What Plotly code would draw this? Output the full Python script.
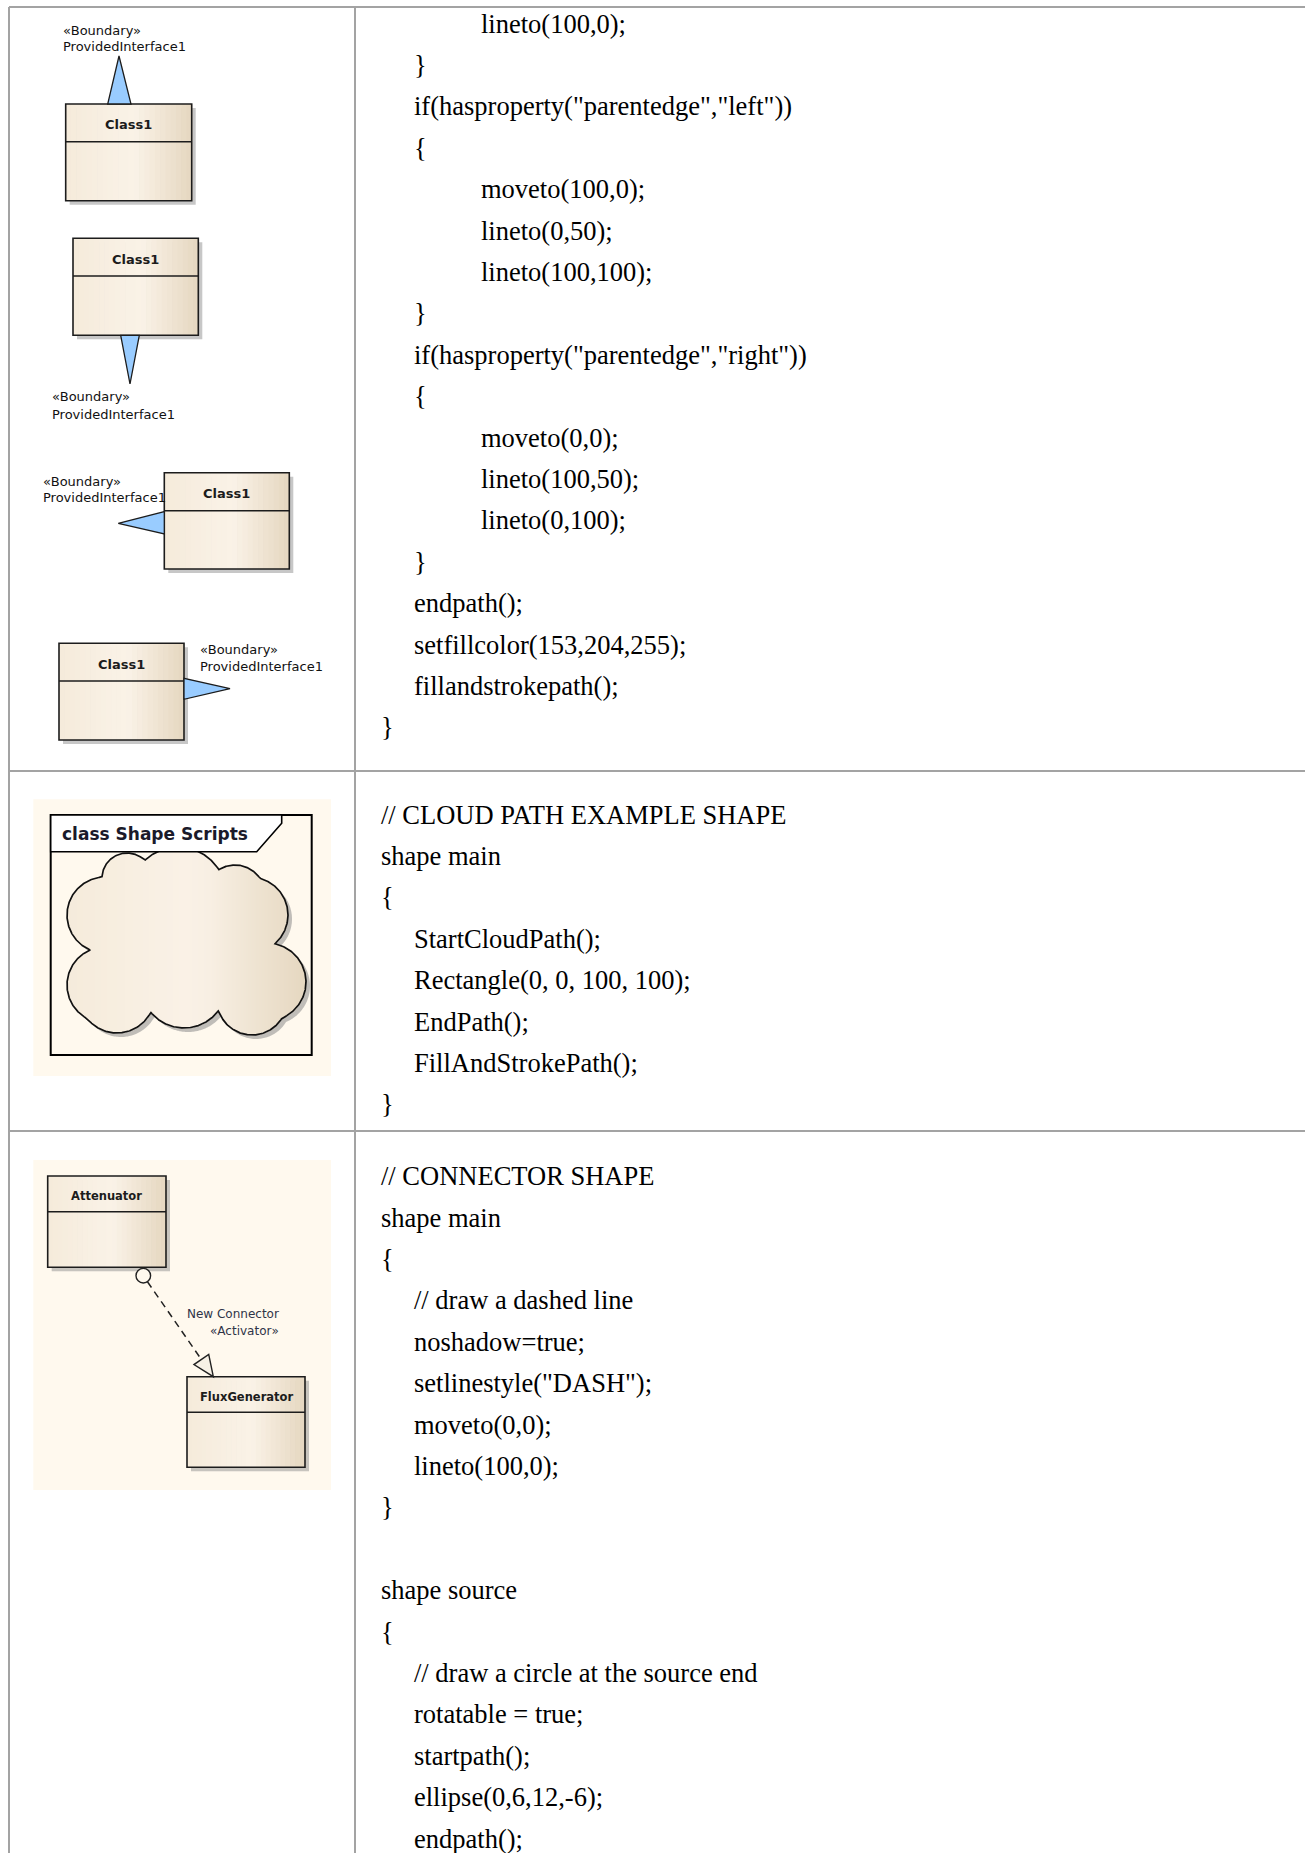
import numpy as np
import plotly.graph_objects as go

# ---------------- content ----------------
row1_code = ['lineto(100,0);', '}', 'if(hasproperty("parentedge","left"))', '{',
             'moveto(100,0);', 'lineto(0,50);', 'lineto(100,100);', '}',
             'if(hasproperty("parentedge","right"))', '{', 'moveto(0,0);',
             'lineto(100,50);', 'lineto(0,100);', '}', 'endpath();',
             'setfillcolor(153,204,255);', 'fillandstrokepath();', '}']
row1_indent = [2, 1, 1, 1, 2, 2, 2, 1, 1, 1, 2, 2, 2, 1, 1, 1, 1, 0]

row2_code = ['// CLOUD PATH EXAMPLE SHAPE', 'shape main', '{', 'StartCloudPath();',
             'Rectangle(0, 0, 100, 100);', 'EndPath();', 'FillAndStrokePath();', '}']
row2_indent = [0, 0, 0, 1, 1, 1, 1, 0]

row3_code = ['// CONNECTOR SHAPE', 'shape main', '{', '// draw a dashed line',
             'noshadow=true;', 'setlinestyle("DASH");', 'moveto(0,0);', 'lineto(100,0);',
             '}', '', 'shape source', '{', '// draw a circle at the source end',
             'rotatable = true;', 'startpath();', 'ellipse(0,6,12,-6);', 'endpath();']
row3_indent = [0, 0, 0, 1, 1, 1, 1, 1, 0, 0, 0, 0, 1, 1, 1, 1, 1]

class_titles = ['Class1', 'Class1', 'Class1', 'Class1']
interface_stereotype = '«Boundary»'
interface_name = 'ProvidedInterface1'
frame_title = 'class Shape Scripts'
connector_classes = ['Attenuator', 'FluxGenerator']
connector_labels = ['New Connector', '«Activator»']

# ---------------- geometry (pixels) ----------------
W, H = 1305, 1853
table_left, table_top, col_split = 9, 7, 355
row_lines = [771, 1131]
code_first_y = [23.6, 814.5, 1176.2]
line_step = 41.4
indent_x = [378.5, 411.5, 478.5]

# class boxes of row 1: x0, y0, x1, y1, divider
iface_boxes = [(65.7, 104, 191.7, 200.7, 141.7),
               (73, 238.3, 198.3, 335.3, 276),
               (164.3, 472.7, 289.3, 569, 510.7),
               (59, 643.3, 184, 740, 681)]
iface_tris = [[(107.7, 104), (131, 104), (119, 56)],
              [(120.7, 335.3), (139.3, 335.3), (130, 384)],
              [(164.3, 511.7), (164.3, 534), (118.3, 523.3)],
              [(184, 678.3), (184, 699.3), (230, 688.7)]]
iface_label_pos = [(63.3, 30, 46.7), (51.7, 396.7, 414), (43.3, 481, 497.7), (200, 649.3, 666.7)]

# row 2 cloud diagram
cloud_bg = (33.3, 799.3, 331, 1076)
cloud_frame = (50.7, 815, 311.7, 1055)
cloud_tab = [(50.7, 815), (281.7, 815), (281.7, 823.3), (256.7, 851.7), (50.7, 851.7)]
cloud_center = (185, 945)
cloud_circles = [(105, 915, 38), (127, 878, 25), (178, 895, 48), (235, 895, 30),
                 (250, 915, 38), (267, 982, 39), (252, 1000, 35), (184, 985, 43),
                 (117, 995, 38), (105, 985, 38), (185, 945, 55)]

# row 3 connector diagram
conn_bg = (33.3, 1160, 331, 1490)
conn_boxes = [(47.7, 1176, 166, 1267.3, 1211.7), (187, 1376.7, 305, 1467.3, 1412.3)]
conn_circle = (143.3, 1275.7, 7.3)
conn_apex = (213.3, 1376.7)

# ---------------- styles ----------------
GRID = '#A3A3A3'
INK = '#1c1c1c'
CREAM = '#FFF9EE'
TRI_FILL = 'rgb(153,204,255)'
grad_stops = [(0.0, (245, 235, 219)), (0.55, (250, 242, 231)), (1.0, (229, 215, 192))]


def grad_color(t):
    for (t0, c0), (t1, c1) in zip(grad_stops[:-1], grad_stops[1:]):
        if t <= t1:
            f = (t - t0) / (t1 - t0)
            c = [round(a + (b - a) * f) for a, b in zip(c0, c1)]
            return 'rgb(%d,%d,%d)' % tuple(c)
    return 'rgb(%d,%d,%d)' % grad_stops[-1][1]


shapes = []
anns = []


def line(x0, y0, x1, y1, color=INK, width=1.5, dash=None, layer='above'):
    d = dict(type='line', x0=x0, y0=y0, x1=x1, y1=y1, xref='x', yref='y', layer=layer,
             line=dict(color=color, width=width))
    if dash:
        d['line']['dash'] = dash
    shapes.append(d)


def rect(x0, y0, x1, y1, fill=None, color=INK, width=1.5, layer='above'):
    shapes.append(dict(type='rect', x0=x0, y0=y0, x1=x1, y1=y1, xref='x', yref='y', layer=layer,
                       fillcolor=fill if fill else 'rgba(0,0,0,0)',
                       line=dict(color=color, width=width)))


def poly(pts, fill, color=INK, width=1.3, layer='above'):
    path = 'M ' + ' L '.join('%.2f %.2f' % p for p in pts) + ' Z'
    shapes.append(dict(type='path', path=path, xref='x', yref='y', layer=layer,
                       fillcolor=fill, line=dict(color=color, width=width)))


def text(x, y, s, size, family='DejaVu Sans', color=INK, xanchor='left', bold=False):
    anns.append(dict(x=x, y=y, xref='x', yref='y', text=('<b>%s</b>' % s) if bold else s,
                     showarrow=False, xanchor=xanchor, yanchor='middle',
                     font=dict(family=family, size=size, color=color)))


def class_box(x0, y0, x1, y1, ydiv, title, fsize):
    rect(x0 + 4, y0 + 4, x1 + 4, y1 + 4, fill='rgba(130,130,130,0.45)', width=0)
    n = 24
    for i in range(n):
        xa = x0 + (x1 - x0) * i / n
        xb = x0 + (x1 - x0) * (i + 1) / n
        rect(xa, y0, xb + 0.6, y1, fill=grad_color((i + 0.5) / n), width=0)
    rect(x0, y0, x1, y1, color=INK, width=1.6)
    line(x0, ydiv, x1, ydiv, width=1.4)
    text((x0 + x1) / 2, (y0 + ydiv) / 2 + 2, title, fsize, xanchor='center', bold=True)


# ---------------- table grid ----------------
line(table_left, table_top, W, table_top, color=GRID, width=2)
line(table_left, table_top, table_left, H, color=GRID, width=2)
line(col_split, table_top, col_split, H, color=GRID, width=2)
for yl in row_lines:
    line(table_left, yl, W, yl, color=GRID, width=2)

# ---------------- code column ----------------
for y0, codes, ind in zip(code_first_y, [row1_code, row2_code, row3_code],
                          [row1_indent, row2_indent, row3_indent]):
    for k, (s, lv) in enumerate(zip(codes, ind)):
        if s:
            text(indent_x[lv], y0 + k * line_step, s, 26.5, family='Liberation Serif', color='#000000')

# ---------------- row 1: provided interfaces ----------------
for (lx, ly1, ly2) in iface_label_pos:
    text(lx - 2, ly1, interface_stereotype, 13, color='#111111')
    text(lx - 2, ly2, interface_name, 13, color='#111111')
for (x0, y0, x1, y1, yd), title, tri in zip(iface_boxes, class_titles, iface_tris):
    class_box(x0, y0, x1, y1, yd, title, 13)
    poly(tri, TRI_FILL)

# ---------------- row 2: cloud ----------------
rect(*cloud_bg, fill=CREAM, width=0, layer='below')
rect(*cloud_frame, color='#000000', width=2, layer='below')

cx0, cy0 = cloud_center
ang = np.linspace(-np.pi, np.pi, 1441)
R = np.zeros_like(ang)
dx, dy = np.cos(ang), np.sin(ang)
for (ccx, ccy, cr) in cloud_circles:
    vx, vy = cx0 - ccx, cy0 - ccy
    b = vx * dx + vy * dy
    disc = b * b - (vx * vx + vy * vy - cr * cr)
    t = np.where(disc >= 0, -b + np.sqrt(np.clip(disc, 0, None)), 0)
    R = np.maximum(R, t)
ox = cx0 + R * dx
oy = cy0 + R * dy

# soft shadow of the cloud (below traces)
shadow_path = 'M ' + ' L '.join('%.2f %.2f' % (a + 4, b + 4) for a, b in zip(ox[::2], oy[::2])) + ' Z'
shapes.append(dict(type='path', path=shadow_path, xref='x', yref='y', layer='below',
                   fillcolor='rgba(140,140,140,0.55)', line=dict(width=0)))

fig = go.Figure()
gx = np.arange(60, 312, 1.0)
gy = np.arange(840, 1042, 1.0)
GX, GY = np.meshgrid(gx, gy)
pa = np.arctan2(GY - cy0, GX - cx0)
pr = np.hypot(GX - cx0, GY - cy0)
Rp = np.interp(pa, ang, R)
z = np.where(pr <= Rp, (GX - 65) / (305 - 65), np.nan)
fig.add_trace(go.Heatmap(x=gx, y=gy, z=z, zmin=0, zmax=1, zsmooth=False, showscale=False,
                         hoverinfo='skip',
                         colorscale=[[s, grad_color(s)] for s in np.linspace(0, 1, 11)]))
fig.add_trace(go.Scatter(x=ox, y=oy, mode='lines', line=dict(color='#111111', width=1.7),
                         hoverinfo='skip', showlegend=False))

poly(cloud_tab, '#FFFFFF', color='#000000', width=1.6)
text(cloud_frame[0] + 9, 834, frame_title, 17, color='#1a1a2a', bold=True)

# ---------------- row 3: connector ----------------
rect(*conn_bg, fill=CREAM, width=0, layer='below')
for (x0, y0, x1, y1, yd), title in zip(conn_boxes, connector_classes):
    class_box(x0, y0, x1, y1, yd, title, 11.5)

ccx, ccy, cr = conn_circle
ax, ay = conn_apex
L = np.hypot(ax - ccx, ay - ccy)
ux, uy = (ax - ccx) / L, (ay - ccy) / L
bx, by = ax - 21 * ux, ay - 21 * uy
line(ccx + cr * ux, ccy + cr * uy, bx, by, color='#222222', width=1.5, dash='7px,5px')
poly([(ax, ay), (bx + 9 * uy, by - 9 * ux), (bx - 9 * uy, by + 9 * ux)], '#F7F1E6',
     color='#222222', width=1.4)
shapes.append(dict(type='circle', x0=ccx - cr, y0=ccy - cr, x1=ccx + cr, y1=ccy + cr,
                   xref='x', yref='y', fillcolor='#FFF9EE', line=dict(color='#222222', width=1.4)))
text(185.7 - 1, 1314.3, connector_labels[0], 12, color='#2f3448')
text(280 + 1, 1331, connector_labels[1], 12, color='#2f3448', xanchor='right')

fig.update_layout(
    width=W, height=H, autosize=False,
    margin=dict(l=0, r=0, t=0, b=0, pad=0),
    paper_bgcolor='#FFFFFF', plot_bgcolor='rgba(0,0,0,0)',
    xaxis=dict(range=[0, W], visible=False, fixedrange=True),
    yaxis=dict(range=[H, 0], visible=False, fixedrange=True),
    shapes=shapes, annotations=anns, showlegend=False,
)

fig.write_html("out.html", config={'displayModeBar': False},
               post_script="document.body.style.margin='0';document.body.style.overflow='hidden';")
